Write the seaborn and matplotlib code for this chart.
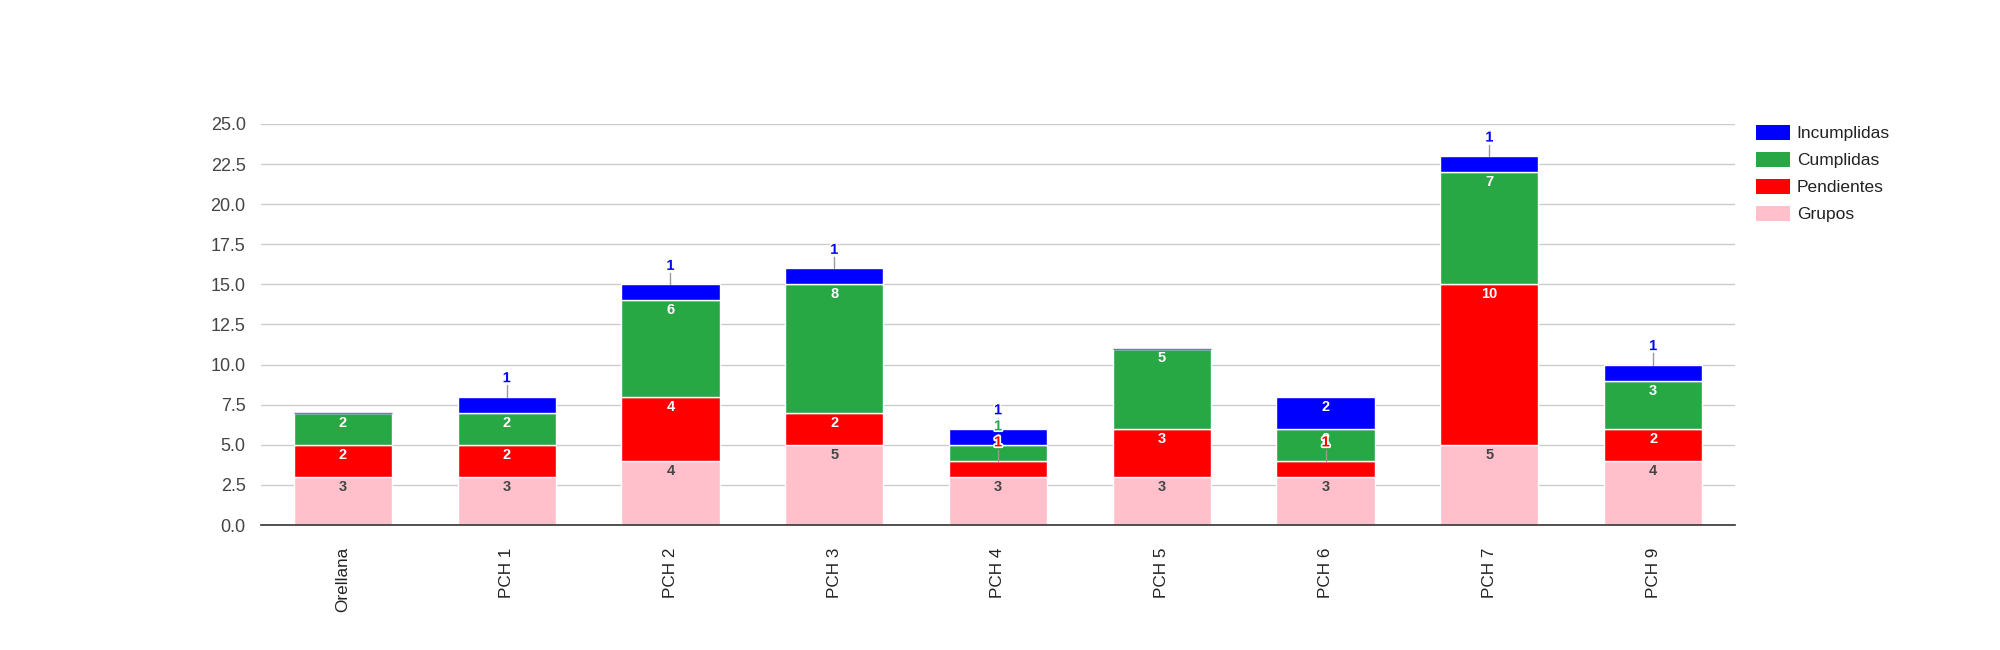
import numpy as np
import matplotlib.pyplot as plt
import matplotlib.patheffects as pe
from matplotlib.patches import Patch
import seaborn as sns

sns.set_theme(style="white")
plt.rcParams["font.family"] = ["Liberation Sans", "DejaVu Sans"]

# Data
sites = ["Orellana", "PCH 1", "PCH 2", "PCH 3", "PCH 4", "PCH 5", "PCH 6", "PCH 7", "PCH 9"]
grupos = [3, 3, 4, 5, 3, 3, 3, 5, 4]
pendientes = [2, 2, 4, 2, 1, 3, 1, 10, 2]
cumplidas = [2, 2, 6, 8, 1, 5, 2, 7, 3]
incumplidas = [0, 1, 1, 1, 1, 0, 2, 1, 1]

series_names = ["Grupos", "Pendientes", "Cumplidas", "Incumplidas"]
series_values = [grupos, pendientes, cumplidas, incumplidas]
series_colors = ["#ffc0cb", "#ff0000", "#28a745", "#0000ff"]
inner_text = ["#444444", "white", "white", "white"]

fig = plt.figure(figsize=(20, 6.5), dpi=100)
ax = fig.add_axes([0.1305, 0.1923, 0.737, 0.617])

bottom = np.zeros(len(sites))
tops = []
for name, vals, col in zip(series_names, series_values, series_colors):
    vals = np.array(vals, dtype=float)
    sns.barplot(x=sites, y=vals, bottom=bottom, color=col, width=0.6,
                edgecolor="white", linewidth=1, saturation=1, ax=ax)
    tops.append(bottom + vals)
    bottom = bottom + vals

# zero-valued Incumplidas show as a thin line on top of the stack
for i, v in enumerate(incumplidas):
    if v == 0:
        ax.hlines(bottom[i], i - 0.3, i + 0.3, color="#6f6fe0", linewidth=1, zorder=3)

# Value labels
for i in range(len(sites)):
    last_y = -10
    for s, (vals, col, tcol) in enumerate(zip(series_values, series_colors, inner_text)):
        v = vals[i]
        if v == 0:
            continue
        top = tops[s][i]
        if v >= 1.5:
            ax.text(i, top - 0.62, f"{v}", ha="center", va="center", fontsize=10.5,
                    fontweight="bold", color=tcol, zorder=5)
        else:
            y = max(top + 1.15, last_y + 0.95)
            last_y = y
            ax.plot([i, i], [top, y - 0.45], color="#999999", linewidth=1, zorder=4)
            ax.text(i, y, f"{v}", ha="center", va="center", fontsize=10.5,
                    fontweight="bold", color=col, zorder=6,
                    path_effects=[pe.withStroke(linewidth=2.5, foreground="white")])

ax.set_ylim(0, 25)
ax.set_xlim(-0.5, len(sites) - 0.5)
ax.set_yticks(np.arange(0, 25.1, 2.5))
ax.set_yticklabels([f"{t:.1f}" for t in np.arange(0, 25.1, 2.5)])
ax.yaxis.grid(True, color="#cccccc", linewidth=1)
ax.set_axisbelow(True)
for sp in ["top", "right", "left"]:
    ax.spines[sp].set_visible(False)
ax.spines["bottom"].set_color("#333333")
ax.spines["bottom"].set_linewidth(1.2)
ax.tick_params(axis="y", length=0, pad=11, labelsize=13, labelcolor="#444444")
ax.tick_params(axis="x", length=0, pad=16, labelsize=12.3, labelcolor="#222222", rotation=90)
ax.set_xlabel("")
ax.set_ylabel("")

handles = [Patch(facecolor=c, edgecolor="none") for c in series_colors[::-1]]
fig.legend(handles, series_names[::-1], loc="upper left", bbox_to_anchor=(0.878, 0.808),
           frameon=False, fontsize=12.5, handlelength=1.95, handleheight=0.98,
           handletextpad=0.4, labelspacing=0.6, borderpad=0, borderaxespad=0,
           labelcolor="#222222")

fig.savefig("out.png", dpi=100)
